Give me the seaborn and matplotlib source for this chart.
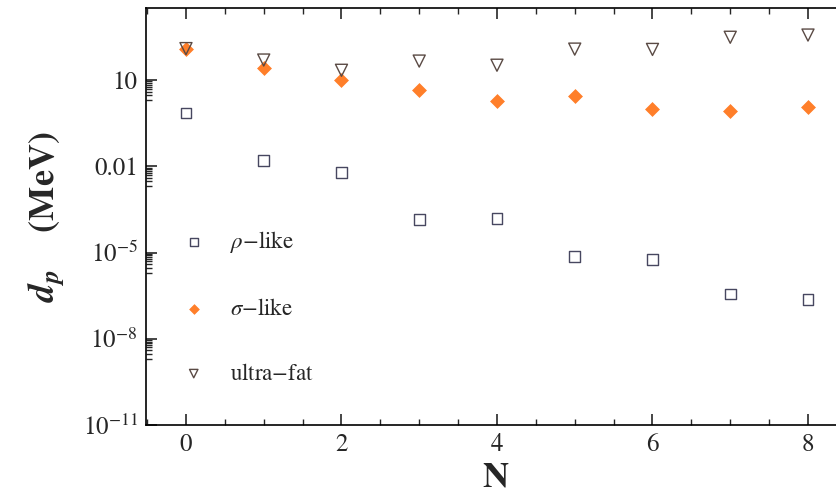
import matplotlib
matplotlib.use("Agg")
import matplotlib.pyplot as plt
import matplotlib.ticker as mticker
import numpy as np
import pandas as pd
import seaborn as sns

# ── Data ──────────────────────────────────────────────────────────────────────
n_vals = [0, 1, 2, 3, 4, 5, 6, 7, 8]
rho_like = [0.72, 0.016, 0.0062, 1.4e-4, 1.5e-4, 7.4e-6, 5.6e-6, 3.6e-7, 2.3e-7]
sigma_like = [120, 27, 10, 4.7, 1.86, 2.9, 1.0, 0.83, 1.17]
ultra_fat = [125, 50, 22, 46, 33, 120, 117, 310, 370]

x_ticks = [0, 2, 4, 6, 8]
y_ticks = [1e-11, 1e-8, 1e-5, 0.01, 10]
y_tick_labels = [r"$10^{-11}$", r"$10^{-8}$", r"$10^{-5}$", "0.01", "10"]

series_labels = [r"$\rho$$-$like", r"$\sigma$$-$like", r"ultra$-$fat"]

sns.set_style("ticks")
plt.rcParams["font.family"] = ["STIXGeneral", "DejaVu Serif"]
plt.rcParams["mathtext.fontset"] = "stix"

fig = plt.figure(figsize=(8.37, 4.99), dpi=100)
ax = fig.add_axes([146 / 837, 1 - 425 / 499, (845 - 146) / 837, (425 - 8) / 499])

df = pd.DataFrame({"N": n_vals, "rho": rho_like, "sigma": sigma_like, "fat": ultra_fat})

sns.scatterplot(data=df, x="N", y="rho", ax=ax, marker="s", s=60,
                facecolor="none", edgecolor="#474760", linewidth=1.0,
                label=series_labels[0])
sns.scatterplot(data=df, x="N", y="sigma", ax=ax, marker="D", s=50,
                color="#ff7f2a", edgecolor="#ff7f2a", linewidth=0.5,
                label=series_labels[1])
sns.scatterplot(data=df, x="N", y="fat", ax=ax, marker="v", s=75,
                facecolor="none", edgecolor="#5a4a44", linewidth=1.0,
                label=series_labels[2])

ax.set_yscale("log")
ax.set_xlim(-0.514, 8.476)
ax.set_ylim(1e-11, 10 ** 3.51)

ax.set_xticks(x_ticks)
ax.set_xticklabels([str(t) for t in x_ticks])
ax.xaxis.set_minor_locator(mticker.MultipleLocator(0.5))
ax.set_yticks(y_ticks)
ax.set_yticklabels(y_tick_labels)
minor_y = [m * t / 10 for t in y_ticks for m in range(2, 10)]
ax.yaxis.set_minor_locator(mticker.FixedLocator(minor_y))
ax.yaxis.set_minor_formatter(mticker.NullFormatter())

ax.tick_params(axis="both", which="major", direction="in", length=8, width=1.2,
               labelsize=18, top=True, right=False, pad=6)
ax.tick_params(axis="both", which="minor", direction="in", length=4, width=1.0,
               top=True, right=False)
for sp in ax.spines.values():
    sp.set_linewidth(1.2)
    sp.set_color("black")

ax.set_xlabel("N", fontsize=26, fontweight="bold", labelpad=4)
ax.set_ylabel(r"$\mathbfit{d_p}$    (MeV)", fontsize=26, fontweight="bold", labelpad=12)

leg = ax.legend(loc="upper left", bbox_to_anchor=(0.006, 0.52), frameon=False,
                fontsize=16.5, labelspacing=1.9, handletextpad=0.6, markerscale=0.7)

fig.savefig("out.png", dpi=100)
